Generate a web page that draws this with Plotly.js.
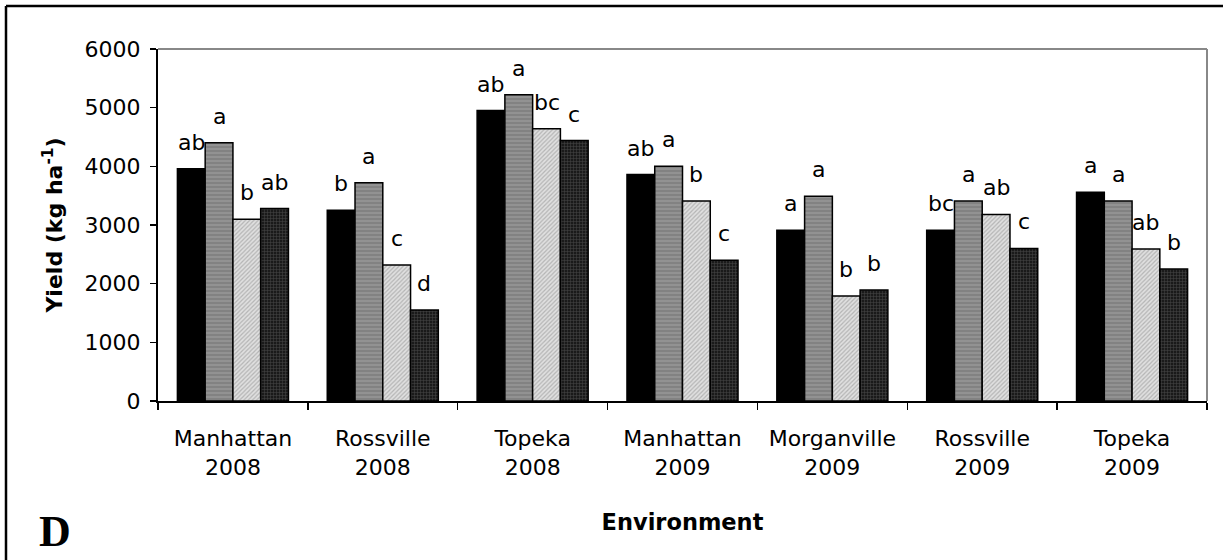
<!DOCTYPE html>
<html>
<head>
<meta charset="utf-8">
<script src="https://cdn.plot.ly/plotly-3.0.1.min.js"></script>
<style>html,body{margin:0;padding:0;background:#fff;}#chart{width:1223px;height:560px;}</style>
</head>
<body>
<div id="chart"></div>
<script>
// ---- data ----
const categories = ['Manhattan<br>2008', 'Rossville<br>2008', 'Topeka<br>2008', 'Manhattan<br>2009', 'Morganville<br>2009', 'Rossville<br>2009', 'Topeka<br>2009'];
const series1 = [3960, 3250, 4950, 3860, 2910, 2910, 3560];
const series2 = [4400, 3720, 5220, 4000, 3490, 3410, 3410];
const series3 = [3100, 2320, 4640, 3410, 1790, 3180, 2590];
const series4 = [3280, 1550, 4440, 2400, 1890, 2600, 2250];
const letters1 = ['ab', 'b', 'ab', 'ab', 'a', 'bc', 'a'];
const letters2 = ['a', 'a', 'a', 'a', 'a', 'a', 'a'];
const letters3 = ['b', 'c', 'bc', 'b', 'b', 'ab', 'ab'];
const letters4 = ['ab', 'd', 'c', 'c', 'b', 'c', 'b'];
const yTickVals = [0, 1000, 2000, 3000, 4000, 5000, 6000];

// ---- styling ----
const W = 1223, H = 560;
const margin = {l: 158, r: 16, t: 49, b: 159};
const bargap = 0.259;
const font = 'DejaVu Sans, Arial, sans-serif';
const outline = {color: '#000', width: 1.5};

const styles = [
  {color: '#000000'},
  {color: '#888888', pattern: {shape: '-', bgcolor: '#929292', fgcolor: '#686868', size: 4, solidity: 0.4, fillmode: 'overlay'}},
  {color: '#d0d0d0', pattern: {shape: '/', bgcolor: '#e0e0e0', fgcolor: '#888888', size: 3, solidity: 0.4, fillmode: 'overlay'}},
  {color: '#2a2a2a', pattern: {shape: '+', bgcolor: '#1a1a1a', fgcolor: '#777777', size: 3, solidity: 0.3, fillmode: 'overlay'}}
];
const allSeries = [series1, series2, series3, series4];
const allLetters = [letters1, letters2, letters3, letters4];

const traces = allSeries.map((vals, i) => ({
  type: 'bar',
  name: 'Series ' + (i + 1),
  x: categories,
  y: vals,
  marker: Object.assign({}, styles[i], {line: outline}),
  hoverinfo: 'skip'
}));

// letter annotations above each bar
const plotW = W - margin.l - margin.r;
const plotH = H - margin.t - margin.b;
const catW = plotW / categories.length;
const barW = catW * (1 - bargap) / 4;
const annotations = [];
allLetters.forEach((arr, i) => {
  arr.forEach((txt, j) => {
    annotations.push({
      x: categories[j], y: allSeries[i][j], xref: 'x', yref: 'y',
      text: txt, showarrow: false, xanchor: 'center', yanchor: 'bottom',
      xshift: (i - 1.5) * barW, yshift: 12,
      font: {family: font, size: 22, color: '#000'}
    });
  });
});
annotations.push({
  xref: 'paper', yref: 'paper', x: (55 - margin.l) / plotW, y: (H - margin.b - 531) / plotH,
  text: '<b>D</b>', showarrow: false, xanchor: 'center', yanchor: 'middle',
  font: {family: 'Liberation Serif, Times New Roman, serif', size: 44, color: '#000'}
});

const shapes = [
  // gray top and right plot border
  {type: 'line', xref: 'paper', yref: 'paper', x0: 0, x1: 1, y0: 1, y1: 1, line: {color: '#888', width: 2}},
  {type: 'line', xref: 'paper', yref: 'paper', x0: 1, x1: 1, y0: 0, y1: 1, line: {color: '#888', width: 2}},
  // outer frame
  {type: 'line', xref: 'paper', yref: 'paper', x0: (6 - margin.l) / plotW, x1: (1240 - margin.l) / plotW,
   y0: (H - margin.b - 6) / plotH, y1: (H - margin.b - 6) / plotH, line: {color: '#000', width: 2.5}},
  {type: 'line', xref: 'paper', yref: 'paper', x0: (6 - margin.l) / plotW, x1: (6 - margin.l) / plotW,
   y0: (H - margin.b - 6) / plotH, y1: (H - margin.b - 600) / plotH, line: {color: '#000', width: 2.5}}
];

const layout = {
  width: W, height: H, margin: margin,
  paper_bgcolor: '#fff', plot_bgcolor: '#fff',
  showlegend: false, barmode: 'group', bargap: bargap, bargroupgap: 0,
  font: {family: font, size: 22, color: '#000'},
  xaxis: {
    type: 'category', showline: true, linecolor: '#000', linewidth: 2,
    ticks: 'outside', tickson: 'boundaries', ticklen: 7, tickwidth: 1.5, tickcolor: '#000',
    ticklabelstandoff: 17,
    showgrid: false, zeroline: false,
    tickfont: {family: font, size: 22, color: '#000'},
    title: {text: '<b>Environment</b>', font: {family: font, size: 22.5, color: '#000'}, standoff: 35}
  },
  yaxis: {
    range: [0, 6000], tickvals: yTickVals, showline: true, linecolor: '#000', linewidth: 2,
    ticks: 'outside', ticklen: 6, tickwidth: 1.5, tickcolor: '#000',
    ticklabelstandoff: 5,
    showgrid: false, zeroline: false,
    tickfont: {family: font, size: 22, color: '#000'},
    title: {text: '<b>Yield (kg ha<sup>-1</sup>)</b>', font: {family: font, size: 22, color: '#000'}, standoff: 16}
  },
  annotations: annotations,
  shapes: shapes
};

Plotly.newPlot('chart', traces, layout, {displayModeBar: false, staticPlot: true});
</script>
</body>
</html>
